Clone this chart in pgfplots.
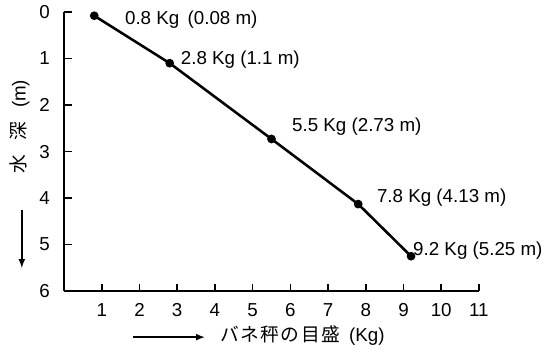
\documentclass[border=0pt]{standalone}
\usepackage{fontspec}
\setmainfont{Liberation Sans}
\newfontfamily\cjk{Noto Sans CJK JP}
\usepackage{pgfplots}
\pgfplotsset{compat=1.18}
\begin{document}
\begin{tikzpicture}
\path[use as bounding box] (-42.7pt,-40pt) rectangle (327.2pt,194pt);
\begin{axis}[
  scale only axis,
  width=276.5pt, height=186pt,
  xmin=0, xmax=11, ymin=0, ymax=6,
  y dir=reverse,
  axis lines=left,
  axis line style={-, line width=1.4pt},
  xtick={1,...,11}, ytick={0,...,6},
  tick align=inside,
  major tick length=5pt,
  tick style={line width=1pt, black},
  /pgf/number format/assume math mode=true,
  ticklabel style={font=\fontsize{12.5}{14}\selectfont},
  yticklabel style={xshift=-6pt},
  xticklabel style={yshift=-5pt},
  clip=false,
]
\addplot[black, line width=1.7pt, mark=*, mark size=2pt] coordinates {
  (0.8,0.08) (2.8,1.1) (5.5,2.73) (7.8,4.13) (9.2,5.25)
};
\begin{scope}[every node/.style={anchor=west, inner sep=0pt, font=\fontsize{12.5}{14}\selectfont}]
\node at (axis cs:1.61,0.17) {0.8 Kg\, (0.08 m)};
\node at (axis cs:3.09,1.03) {2.8 Kg (1.1 m)};
\node at (axis cs:6.04,2.47) {5.5 Kg (2.73 m)};
\node at (axis cs:8.29,4.0) {7.8 Kg (4.13 m)};
\node at (axis cs:9.25,5.14) {9.2 Kg (5.25 m)};
\end{scope}
\draw[-latex, line width=1pt] (axis cs:1.82,6.99) -- (axis cs:3.73,6.99);
\node[anchor=west, inner sep=0pt, font=\fontsize{12.5}{14}\selectfont] at (axis cs:4.13,6.95) {{\cjk バ\hspace{1pt}ネ\hspace{1pt}秤\hspace{1pt}の\hspace{1pt}目\hspace{1pt}盛}\hspace{6pt}(Kg)};
\node[rotate=90, inner sep=0pt, font=\fontsize{12.5}{14}\selectfont] at (axis cs:-1.175,2.47) {{\cjk 水\hspace{10pt}深}\hspace{9pt}(m)};
\draw[-latex, line width=1pt] (axis cs:-1.12,4.26) -- (axis cs:-1.12,5.5);
\end{axis}
\end{tikzpicture}
\end{document}
